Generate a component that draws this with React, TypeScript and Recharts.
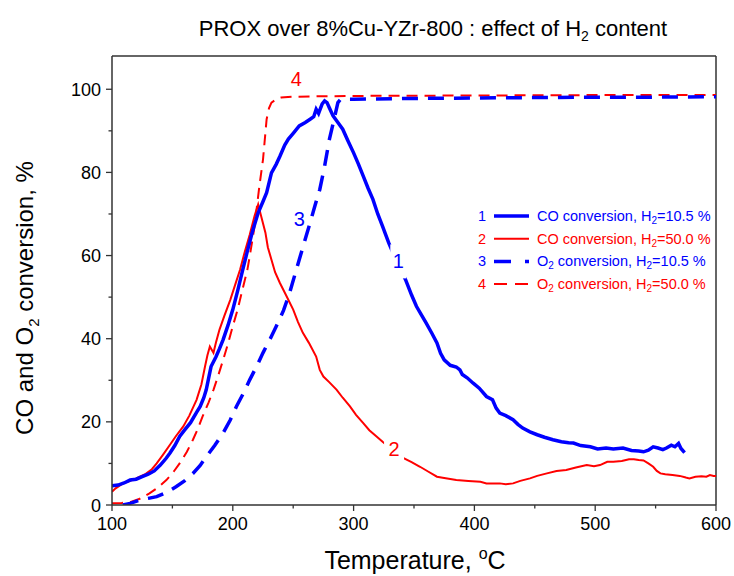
import React from 'react';
import { LineChart, Line, XAxis, YAxis, ReferenceLine, ReferenceDot } from 'recharts';

// Temperature (°C) vs conversion (%)
const coH2_105: [number, number][] = [
  [100, 4.6], [105, 4.8], [110, 5.3], [115, 6.0], [120, 6.2], [125, 6.8], [130, 7.4], [135, 8.2],
  [140, 9.6], [145, 11.3], [148, 12.5], [152, 14.3], [156, 16.5], [160, 18.0], [165, 19.8], [170, 22.3],
  [173, 23.7], [176, 25.8], [178, 27.7], [180, 30.5], [182, 33.3], [186, 35.6], [189, 37.6], [192, 39.8],
  [196, 43.2], [200, 47], [204, 51.5], [208, 56.3], [212, 61], [216, 65.5], [221, 70.3], [225, 73],
  [228, 75.1], [232, 79.9], [236, 82], [239, 83.9], [243, 86.6], [246, 88], [250, 89.4], [255, 91.2],
  [260, 92], [264, 92.8], [267, 93.4], [269, 95.2], [271, 94.2], [274, 96.5], [276, 97.2], [278, 96.8],
  [280, 95.5], [283, 93.6], [287, 92], [291, 90.4], [295, 87.8], [300, 84.7], [304, 82], [308, 79.1],
  [312, 76.2], [316, 73.5], [320, 70], [324, 67], [327, 64.7], [329, 63.1], [335, 59], [340, 56],
  [343, 54.2], [348, 50.5], [352, 47.8], [356, 45.8], [360, 43.8], [365, 41.2], [369, 39], [372, 36.5],
  [375, 34.9], [380, 33.6], [385, 33.2], [388, 32.5], [390, 31.4], [394, 30.6], [399, 29.3], [404, 28.1],
  [410, 26.1], [415, 25.3], [418, 23.3], [421, 22.1], [426, 21.5], [432, 20.5], [436, 19.4], [440, 18.5],
  [446, 17.6], [452, 16.9], [458, 16.3], [465, 15.7], [472, 15.2], [478, 15.0], [482, 14.9], [488, 14.3],
  [496, 14.0], [502, 13.5], [509, 13.7], [515, 13.5], [523, 13.7], [530, 13.1], [536, 13.0], [540, 12.8],
  [544, 13.2], [548, 14.0], [552, 13.7], [556, 13.3], [559, 13.7], [563, 14.4], [566, 14.0], [569, 14.8],
  [571, 13.6], [574, 12.6],
];

const coH2_500: [number, number][] = [
  [100, 3.2], [103, 4.0], [106, 4.6], [109, 5.2], [115, 5.8], [120, 6.4], [123, 6.8], [128, 7.5],
  [133, 8.6], [137, 10], [142, 12], [148, 14.5], [153, 16.6], [159, 18.9], [164, 21.5], [170, 25.3],
  [174, 29], [177, 33.3], [179, 36], [181, 38.1], [184, 36.6], [186, 39], [189, 42.2], [193, 45.5],
  [198, 49.4], [202, 53], [206, 56.6], [210, 61], [214, 65], [218, 69.5], [221, 72.3], [223, 70],
  [227, 65.5], [229, 62], [232, 59], [235, 56], [239, 53.4], [244, 50.5], [250, 47], [254, 44],
  [258, 41.4], [263, 39], [269, 35.7], [272, 32.5], [275, 30.9], [280, 29.5], [286, 27.7], [291, 25.8],
  [297, 23.7], [302, 21.7], [308, 19.7], [313, 18], [319, 16.5], [324, 15.2], [330, 13.8], [336, 12.5],
  [341, 11.3], [348, 10.3], [355, 9.2], [362, 8.0], [369, 6.8], [375, 6.5], [385, 6.0], [395, 5.8],
  [405, 5.6], [410, 5.2], [415, 5.2], [421, 5.2], [426, 5.0], [432, 5.2], [438, 5.8], [446, 6.4],
  [452, 7.0], [460, 7.6], [468, 8.2], [476, 8.4], [484, 9.0], [493, 9.6], [499, 9.3], [504, 9.6],
  [510, 10.4], [515, 10.4], [522, 10.6], [528, 11.0], [532, 11.0], [536, 10.8], [540, 10.7], [544, 10.0],
  [548, 9.2], [551, 8.2], [554, 7.6], [558, 7.4], [564, 7.2], [570, 7.0], [575, 6.6], [578, 6.4],
  [583, 6.8], [588, 6.9], [592, 6.8], [595, 7.2], [598, 7.0], [600, 7.0],
];

const o2H2_105: [number, number][] = [
  [109, 0], [115, 0.4], [123, 1.2], [130, 1.6], [137, 2.0], [145, 3.0], [153, 4.4], [160, 5.8],
  [167, 7.6], [173, 9.5], [178, 11.6], [185, 14.3], [192, 17.3], [198, 20.5], [203, 23.7], [209, 27],
  [214, 30.1], [220, 33.5], [225, 36.6], [231, 40], [236, 43], [242, 46.8], [247, 51], [252, 56],
  [258, 62], [264, 67.9], [268, 72], [272, 75.9], [276, 81.5], [280, 88], [284, 93], [287, 96.8],
  [289, 97.5], [295, 97.6], [300, 97.6], [350, 97.8], [400, 97.9], [450, 98.0], [500, 98.1],
  [550, 98.1], [600, 98.2],
];

const o2H2_500: [number, number][] = [
  [100, 0.4], [108, 0.5], [115, 0.7], [123, 1.5], [131, 2.8], [138, 4.2], [145, 6], [151, 8],
  [156, 10], [162, 12.8], [167, 15.7], [171, 18.3], [175, 21.3], [180, 24.7], [184, 27.7], [188, 31.2],
  [192, 34.9], [196, 38.8], [200, 43], [204, 47], [208, 51.8], [212, 56.5], [214, 59.8], [218, 67],
  [222, 76.7], [225, 83.1], [228, 92.8], [230, 95.5], [232, 96.8], [236, 97.6], [240, 98.0], [250, 98.2],
  [270, 98.3], [300, 98.4], [400, 98.5], [500, 98.6], [600, 98.6],
];

const xTicks = [100, 150, 200, 250, 300, 350, 400, 450, 500, 550, 600];
const yTicks = [0, 10, 20, 30, 40, 50, 60, 70, 80, 90, 100];

const curveLabels = [
  { t: '1', x: 337, y: 58.6, color: '#0000ff', bg: true, w: 16, h: 34 },
  { t: '2', x: 333.5, y: 13.5, color: '#ff0000', bg: true, w: 20, h: 24 },
  { t: '3', x: 255, y: 68.8, color: '#0000ff', bg: false, w: 0, h: 0 },
  { t: '4', x: 252.5, y: 102.5, color: '#ff0000', bg: false, w: 0, h: 0 },
];

const legendRows = [
  { n: '1', a: 'CO', rest: '10.5 %', color: '#0000ff', w: 3.5, dash: undefined as string | undefined },
  { n: '2', a: 'CO', rest: '50.0 %', color: '#ff0000', w: 2, dash: undefined as string | undefined },
  { n: '3', a: 'O2', rest: '10.5 %', color: '#0000ff', w: 3.5, dash: '17 14' },
  { n: '4', a: 'O2', rest: '50.0 %', color: '#ff0000', w: 2, dash: '13 8' },
];

const FONT = 'Liberation Sans, Arial, sans-serif';
const AX = '#333333';

const pts = (a: [number, number][]) => a.map(([x, y]) => ({ x, y }));

const XTick = (props: any) => {
  const { x, y, payload } = props;
  const v = payload.value;
  const major = v % 100 === 0;
  return (
    <g>
      <line x1={x} x2={x} y1={y} y2={y + (major ? 6 : 3.5)} stroke={AX} strokeWidth={1.3} />
      {major && (
        <text x={x} y={y + 25} textAnchor="middle" fontSize={18} fontFamily={FONT} fill="#000">
          {v}
        </text>
      )}
    </g>
  );
};

const YTick = (props: any) => {
  const { x, y, payload } = props;
  const v = payload.value;
  const major = v % 20 === 0;
  return (
    <g>
      <line x1={x - (major ? 6 : 3.5)} x2={x} y1={y} y2={y} stroke={AX} strokeWidth={1.3} />
      {major && (
        <text x={x - 11} y={y + 6.5} textAnchor="end" fontSize={18} fontFamily={FONT} fill="#000">
          {v}
        </text>
      )}
    </g>
  );
};

const CurveLabel = (props: any) => {
  const { cx, cy, t, color, bg, w, h } = props;
  return (
    <g>
      {bg && <rect x={cx - w / 2} y={cy - h / 2} width={w} height={h} fill="#fff" />}
      <text x={cx} y={cy + 7} textAnchor="middle" fontSize={20} fontFamily={FONT} fill={color}>
        {t}
      </text>
    </g>
  );
};

export default function App() {
  return (
    <div style={{ position: 'absolute', left: 0, top: 0, width: 734, height: 576, background: '#fff' }}>
      <LineChart width={734} height={576} margin={{ top: 56, right: 18, left: 52, bottom: 41 }}>
        <XAxis
          type="number"
          dataKey="x"
          domain={[100, 600]}
          ticks={xTicks}
          interval={0}
          tickSize={0}
          tickMargin={0}
          tickLine={false}
          tick={<XTick />}
          height={30}
          allowDataOverflow
          axisLine={{ stroke: AX, strokeWidth: 1.5 }}
        />
        <YAxis
          type="number"
          domain={[0, 108]}
          ticks={yTicks}
          interval={0}
          tickSize={0}
          tickMargin={0}
          tickLine={false}
          tick={<YTick />}
          width={60}
          allowDataOverflow
          axisLine={{ stroke: AX, strokeWidth: 1.5 }}
        />
        <ReferenceLine y={108} stroke={AX} strokeWidth={1.5} />
        <ReferenceLine x={600} stroke={AX} strokeWidth={1.5} />
        <Line data={pts(o2H2_500)} dataKey="y" type="linear" stroke="#ff0000" strokeWidth={2} strokeDasharray="11 7" dot={false} isAnimationActive={false} />
        <Line data={pts(o2H2_105)} dataKey="y" type="linear" stroke="#0000ff" strokeWidth={3.5} strokeDasharray="16 10" dot={false} isAnimationActive={false} />
        <Line data={pts(coH2_500)} dataKey="y" type="linear" stroke="#ff0000" strokeWidth={2} dot={false} isAnimationActive={false} />
        <Line data={pts(coH2_105)} dataKey="y" type="linear" stroke="#0000ff" strokeWidth={3.5} dot={false} isAnimationActive={false} />
        {curveLabels.map((c) => (
          <ReferenceDot
            key={c.t}
            x={c.x}
            y={c.y}
            r={0}
            shape={(p: any) => <CurveLabel {...p} t={c.t} color={c.color} bg={c.bg} w={c.w} h={c.h} />}
          />
        ))}
      </LineChart>
      <svg
        width={734}
        height={576}
        style={{ position: 'absolute', left: 0, top: 0, pointerEvents: 'none' }}
      >
        <text x={433} y={36} textAnchor="middle" fontSize={22} fontFamily={FONT} fill="#000">
          {'PROX over 8%Cu-YZr-800 : effect of H'}
          <tspan fontSize={14} dy={5}>2</tspan>
          <tspan dy={-5}>{' content'}</tspan>
        </text>
        <text x={415} y={569} textAnchor="middle" fontSize={25} fontFamily={FONT} fill="#000">
          {'Temperature, '}
          <tspan fontSize={16} dy={-10}>o</tspan>
          <tspan dy={10}>C</tspan>
        </text>
        <text
          x={33}
          y={298}
          textAnchor="middle"
          fontSize={24}
          fontFamily={FONT}
          fill="#000"
          transform="rotate(-90 33 298)"
        >
          {'CO and O'}
          <tspan fontSize={15} dy={6}>2</tspan>
          <tspan dy={-6}>{' conversion, %'}</tspan>
        </text>
        {legendRows.map((r, i) => {
          const cy = 216 + i * 22.7;
          return (
            <g key={r.n}>
              <text x={482} y={cy + 5} textAnchor="middle" fontSize={14.5} fontFamily={FONT} fill={r.color}>
                {r.n}
              </text>
              <line x1={494} x2={529} y1={cy} y2={cy} stroke={r.color} strokeWidth={r.w} strokeDasharray={r.dash} />
              <text x={537} y={cy + 5} fontSize={14.5} fontFamily={FONT} fill={r.color}>
                {r.a === 'O2' ? (
                  <>
                    {'O'}
                    <tspan fontSize={10} dy={3}>2</tspan>
                    <tspan dy={-3}>{' conversion, H'}</tspan>
                  </>
                ) : (
                  <>{'CO conversion, H'}</>
                )}
                <tspan fontSize={10} dy={3}>2</tspan>
                <tspan dy={-3}>{'=' + r.rest}</tspan>
              </text>
            </g>
          );
        })}
      </svg>
    </div>
  );
}
